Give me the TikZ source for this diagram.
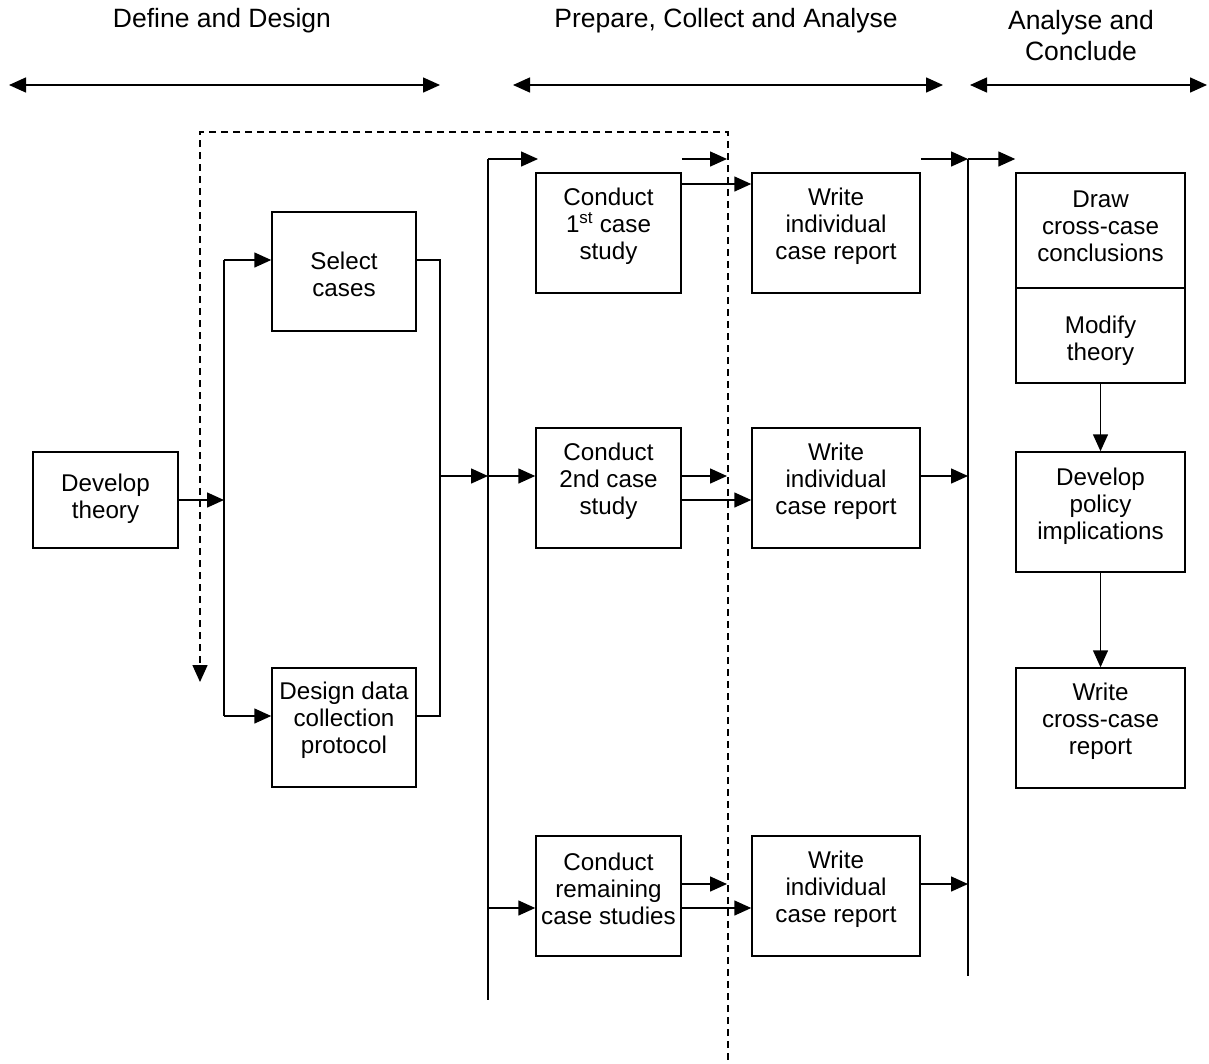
\documentclass[tikz,border=0pt]{standalone}
\usepackage{fontspec}
\setmainfont{Liberation Sans}
\usetikzlibrary{arrows.meta,calc}

\begin{document}
\begin{tikzpicture}[x=1pt,y=-1pt,
  box/.style={draw,line width=1.5pt,inner sep=0pt,minimum width=#1},
  lbl/.style={font=\fontsize{24.2}{27}\selectfont,align=center,inner sep=0pt},
  head/.style={font=\fontsize{26.5}{31}\selectfont,align=center,inner sep=0pt},
  wire/.style={line width=1.5pt},
  conn/.style={line width=1.5pt,-{Triangle[length=17pt,width=15pt]}},
  phase/.style={line width=1.5pt,{Triangle[length=17pt,width=15pt]}-{Triangle[length=17pt,width=15pt]}},
  backloop/.style={line width=1.5pt,dash pattern=on 7pt off 5pt,-{Triangle[length=17pt,width=15pt]}}]

\useasboundingbox (0,0) rectangle (1209,1063);

% phase headings and their spans
\node[head] (h1) at (222,21) {Define and Design};
\node[head] (h2) at (726,21) {Prepare, Collect and Analyse};
\node[head] (h3) at (1081,36) {Analyse and\\Conclude};
\coordinate (p1a) at (9,85);   \coordinate (p1b) at (440,85);
\coordinate (p2a) at (513,85); \coordinate (p2b) at (943,85);
\coordinate (p3a) at (970,85); \coordinate (p3b) at (1207,85);
\draw[phase] (p1a) -- (p1b);
\draw[phase] (p2a) -- (p2b);
\draw[phase] (p3a) -- (p3b);

% boxes
\node[box=145pt,minimum height=96pt]  (dev) at (105.5,500) {};
\node[box=144pt,minimum height=119pt] (sel) at (344,271.5) {};
\node[box=144pt,minimum height=119pt] (des) at (344,727.5) {};
\node[box=145pt,minimum height=120pt] (c1) at (608.5,233) {};
\node[box=145pt,minimum height=120pt] (c2) at (608.5,488) {};
\node[box=145pt,minimum height=120pt] (c3) at (608.5,896) {};
\node[box=168pt,minimum height=120pt] (w1) at (836,233) {};
\node[box=168pt,minimum height=120pt] (w2) at (836,488) {};
\node[box=168pt,minimum height=120pt] (w3) at (836,896) {};
\node[box=169pt,minimum height=115pt] (dr) at (1100.5,230.5) {};
\node[box=169pt,minimum height=95pt]  (mo) at (1100.5,335.5) {};
\node[box=169pt,minimum height=120pt] (po) at (1100.5,512) {};
\node[box=169pt,minimum height=120pt] (wc) at (1100.5,728) {};

% box texts
\node[lbl] (devT) at ([yshift=1pt]dev.center) {Develop\\theory};
\node[lbl] (selT) at ([yshift=-3pt]sel.center) {Select\\cases};
\node[lbl] (desT) at ([yshift=7pt]des.center) {Design data\\collection\\protocol};
\node[lbl] (c1T) at ([yshift=7pt]c1.center) {Conduct\\1\textsuperscript{st} case\\study};
\node[lbl] (c2T) at ([yshift=7pt]c2.center) {Conduct\\2nd case\\study};
\node[lbl] (c3T) at ([yshift=7pt]c3.center) {Conduct\\remaining\\case studies};
\node[lbl] (w1T) at ([yshift=7pt]w1.center) {Write\\individual\\case report};
\node[lbl] (w2T) at ([yshift=7pt]w2.center) {Write\\individual\\case report};
\node[lbl] (w3T) at ([yshift=7pt]w3.center) {Write\\individual\\case report};
\node[lbl] (drT) at ([yshift=4pt]dr.center) {Draw\\cross-case\\conclusions};
\node[lbl] (moT) at ([yshift=-5pt]mo.center) {Modify\\theory};
\node[lbl] (poT) at ([yshift=6pt]po.center) {Develop\\policy\\implications};
\node[lbl] (wcT) at ([yshift=7pt]wc.center) {Write\\cross-case\\report};

% design stage bus
\coordinate (aTop) at (224,260);
\coordinate (aBot) at (224,716);
\draw[wire] (aTop) -- (aBot);
\draw[conn] (dev.east) -- (dev.east -| aTop);
\draw[conn] (aTop) -- (aTop -| sel.west);
\draw[conn] (aBot) -- (aBot -| des.west);

% join of the two design outputs
\coordinate (bTop) at (440,260);
\coordinate (bBot) at (440,716);
\coordinate (bMid) at (440,476);
\draw[wire] (sel.east |- bTop) -- (bTop) -- (bBot) -- (des.east |- bBot);

% case study bus
\coordinate (cTop) at (488,159);
\coordinate (cBot) at (488,1000);
\coordinate (cMid) at (488,476);
\coordinate (cLow) at (488,908);
\coordinate (cEnd) at (538,159);
\draw[wire] (cTop) -- (cBot);
\draw[conn] (bMid) -- (cMid);
\draw[conn] (cTop) -- (cEnd);
\draw[conn] (cMid) -- (cMid -| c2.west);
\draw[conn] (cLow) -- (cLow -| c3.west);

% case study outputs
\coordinate (e1) at (727,159);
\coordinate (e2) at (727,476);
\coordinate (e3) at (727,884);
\coordinate (r1) at (752,184);
\coordinate (r2) at (752,500);
\coordinate (r3) at (752,908);
\draw[conn] (c1.east |- e1) -- (e1);
\draw[conn] (c1.east |- r1) -- (r1 -| w1.west);
\draw[conn] (c2.east |- e2) -- (e2);
\draw[conn] (c2.east |- r2) -- (r2 -| w2.west);
\draw[conn] (c3.east |- e3) -- (e3);
\draw[conn] (c3.east |- r3) -- (r3 -| w3.west);

% report bus
\coordinate (dTop) at (968,159);
\coordinate (dBot) at (968,976);
\coordinate (dMid) at (968,476);
\coordinate (dLow) at (968,884);
\draw[wire] (dTop) -- (dBot);
\draw[conn] (w1.east |- dTop) -- (dTop);
\draw[conn] (dTop) -- (dTop -| dr.west);
\draw[conn] (w2.east |- dMid) -- (dMid);
\draw[conn] (w3.east |- dLow) -- (dLow);

% cross-case chain
\draw[conn] (mo.south) -- (po.north);
\draw[conn] (po.south) -- (wc.north);

% feedback loop
\coordinate (q0) at (728,1060);
\coordinate (q1) at (200,132);
\coordinate (q2) at (200,682);
\draw[backloop] (q0) |- (q1) -- (q2);

\end{tikzpicture}
\end{document}
